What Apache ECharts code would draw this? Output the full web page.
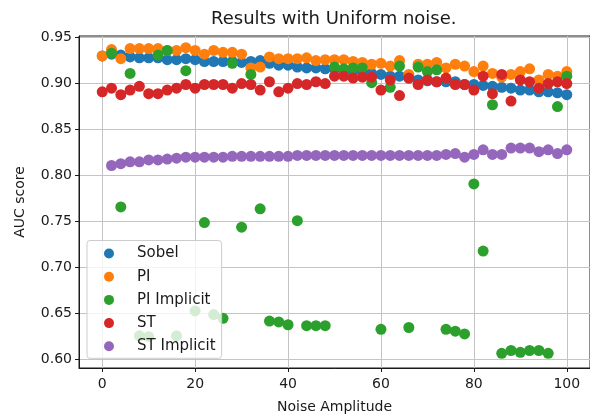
<!DOCTYPE html>
<html>
<head>
<meta charset="utf-8">
<script src="https://cdn.jsdelivr.net/npm/echarts@6/dist/echarts.min.js"></script>
<style>
  html, body { margin: 0; padding: 0; background: #fff; }
  #chart { width: 590px; height: 419px; }
</style>
</head>
<body>
<div id="chart"></div>
<script>
// Noise amplitudes tested (x values)
const noiseAmplitude = [0, 2, 4, 6, 8, 10, 12, 14, 16, 18, 20, 22, 24, 26, 28, 30, 32, 34, 36, 38, 40,
  42, 44, 46, 48, 50, 52, 54, 56, 58, 60, 62, 64, 66, 68, 70, 72, 74, 76, 78, 80,
  82, 84, 86, 88, 90, 92, 94, 96, 98, 100];
// Implicit variants are only evaluated for non-zero noise
const noiseAmplitudeImplicit = [2, 4, 6, 8, 10, 12, 14, 16, 18, 20, 22, 24, 26, 28, 30, 32, 34, 36, 38, 40,
  42, 44, 46, 48, 50, 52, 54, 56, 58, 60, 62, 64, 66, 68, 70, 72, 74, 76, 78, 80,
  82, 84, 86, 88, 90, 92, 94, 96, 98, 100];

const sobelAuc = [0.930, 0.932, 0.931, 0.929, 0.928, 0.928, 0.928, 0.926, 0.926, 0.927, 0.926,
  0.924, 0.924, 0.924, 0.924, 0.923, 0.924, 0.925, 0.922, 0.920, 0.920,
  0.918, 0.917, 0.917, 0.916, 0.916, 0.915, 0.914, 0.913, 0.911, 0.910,
  0.908, 0.908, 0.906, 0.904, 0.903, 0.902, 0.902, 0.902, 0.899, 0.899,
  0.898, 0.897, 0.896, 0.895, 0.893, 0.893, 0.891, 0.891, 0.890, 0.888];

const piAuc = [0.930, 0.937, 0.927, 0.938, 0.938, 0.938, 0.938, 0.936, 0.936, 0.939, 0.936,
  0.932, 0.936, 0.934, 0.934, 0.932, 0.917, 0.918, 0.929, 0.927, 0.927,
  0.927, 0.928, 0.925, 0.926, 0.926, 0.926, 0.924, 0.923, 0.921, 0.922,
  0.919, 0.925, 0.910, 0.921, 0.921, 0.923, 0.917, 0.921, 0.919, 0.913,
  0.919, 0.911, 0.907, 0.910, 0.913, 0.916, 0.904, 0.910, 0.908, 0.913];

const piImplicitAuc = [0.933, 0.766, 0.911, 0.626, 0.625, 0.931, 0.936, 0.626, 0.914, 0.653,
  0.749, 0.649, 0.645, 0.922, 0.744, 0.910, 0.764, 0.642, 0.641, 0.638,
  0.751, 0.637, 0.637, 0.637, 0.918, 0.916, 0.917, 0.917, 0.901, 0.633,
  0.896, 0.919, 0.635, 0.918, 0.913, 0.915, 0.633, 0.631, 0.628, 0.791,
  0.718, 0.877, 0.607, 0.610, 0.608, 0.610, 0.610, 0.607, 0.875, 0.908];

const stAuc = [0.891, 0.895, 0.888, 0.893, 0.897, 0.889, 0.889, 0.893, 0.895, 0.899, 0.895,
  0.899, 0.899, 0.899, 0.895, 0.900, 0.899, 0.893, 0.902, 0.891, 0.895,
  0.900, 0.899, 0.902, 0.900, 0.908, 0.908, 0.906, 0.907, 0.907, 0.893,
  0.904, 0.887, 0.906, 0.899, 0.904, 0.902, 0.906, 0.899, 0.899, 0.893,
  0.908, 0.889, 0.910, 0.881, 0.904, 0.902, 0.895, 0.900, 0.902, 0.900];

const stImplicitAuc = [0.811, 0.813, 0.815, 0.815, 0.817, 0.817, 0.818, 0.819, 0.820, 0.820,
  0.820, 0.820, 0.820, 0.821, 0.821, 0.821, 0.821, 0.821, 0.821, 0.821,
  0.822, 0.822, 0.822, 0.822, 0.822, 0.822, 0.822, 0.822, 0.822, 0.822,
  0.822, 0.822, 0.822, 0.822, 0.822, 0.822, 0.823, 0.824, 0.820, 0.823,
  0.828, 0.823, 0.823, 0.830, 0.830, 0.830, 0.826, 0.828, 0.824, 0.828];

const xTicks = [0, 20, 40, 60, 80, 100];
const yTicks = [0.60, 0.65, 0.70, 0.75, 0.80, 0.85, 0.90, 0.95];

const FONT = 'DejaVu Sans';
const INK = '#1a1a1a';

function pairs(xs, ys) {
  return ys.map((y, i) => [xs[i], y]);
}

function scatter(name, color, xs, ys) {
  return {
    name: name,
    type: 'scatter',
    symbol: 'circle',
    symbolSize: 11,
    itemStyle: { color: color, opacity: 1 },
    emphasis: { disabled: true },
    data: pairs(xs, ys)
  };
}

const chart = echarts.init(document.getElementById('chart'), null, { renderer: 'canvas' });

chart.setOption({
  animation: false,
  backgroundColor: '#ffffff',
  title: {
    text: 'Results with Uniform noise.',
    left: 211,
    top: 10,
    padding: 0,
    textStyle: { fontFamily: FONT, fontSize: 18, fontWeight: 'normal', color: INK }
  },
  grid: {
    left: 79,
    top: 36,
    width: 515.4,
    height: 332,
    show: true,
    borderColor: INK,
    borderWidth: 1,
    backgroundColor: 'transparent'
  },
  legend: {
    orient: 'vertical',
    left: 87,
    top: 240.5,
    padding: [5, 6, 4, 17],
    itemGap: 7.2,
    itemWidth: 10,
    itemHeight: 10,
    icon: 'circle',
    backgroundColor: 'rgba(255,255,255,0.8)',
    borderColor: '#cccccc',
    borderWidth: 1,
    borderRadius: 3,
    formatter: name => '{t|' + name + '}',
    textStyle: {
      fontFamily: FONT, fontSize: 15, lineHeight: 16, color: INK,
      rich: { t: { fontFamily: FONT, fontSize: 15, lineHeight: 16, color: INK, padding: [0, 0, 0, 18] } }
    },
    data: ['Sobel', 'PI', 'PI Implicit', 'ST', 'ST Implicit']
  },
  xAxis: {
    type: 'value',
    min: -5,
    max: 105,
    name: 'Noise Amplitude',
    nameLocation: 'middle',
    nameGap: 32,
    nameTextStyle: { fontFamily: FONT, fontSize: 14, color: INK },
    axisLine: { show: true, onZero: false, lineStyle: { color: INK, width: 1 } },
    axisTick: { show: true, length: 4, lineStyle: { color: INK }, customValues: xTicks },
    axisLabel: { fontFamily: FONT, fontSize: 14, color: INK, margin: 9, customValues: xTicks },
    splitLine: { show: true, lineStyle: { color: '#c4c4c4', width: 1 } }
  },
  yAxis: {
    type: 'value',
    min: 0.591,
    max: 0.9517,
    name: 'AUC score',
    nameLocation: 'middle',
    nameGap: 52,
    nameTextStyle: { fontFamily: FONT, fontSize: 14, color: INK },
    axisLine: { show: true, onZero: false, lineStyle: { color: INK, width: 1 } },
    axisTick: { show: true, length: 4, lineStyle: { color: INK }, customValues: yTicks },
    axisLabel: {
      fontFamily: FONT, fontSize: 14, color: INK, margin: 7, customValues: yTicks,
      formatter: v => Number(v).toFixed(2)
    },
    splitLine: { show: true, lineStyle: { color: '#c4c4c4', width: 1 } }
  },
  series: [
    scatter('Sobel', '#1f77b4', noiseAmplitude, sobelAuc),
    scatter('PI', '#ff7f0e', noiseAmplitude, piAuc),
    scatter('PI Implicit', '#2ca02c', noiseAmplitudeImplicit, piImplicitAuc),
    scatter('ST', '#d62728', noiseAmplitude, stAuc),
    scatter('ST Implicit', '#9467bd', noiseAmplitudeImplicit, stImplicitAuc)
  ]
});
</script>
</body>
</html>
